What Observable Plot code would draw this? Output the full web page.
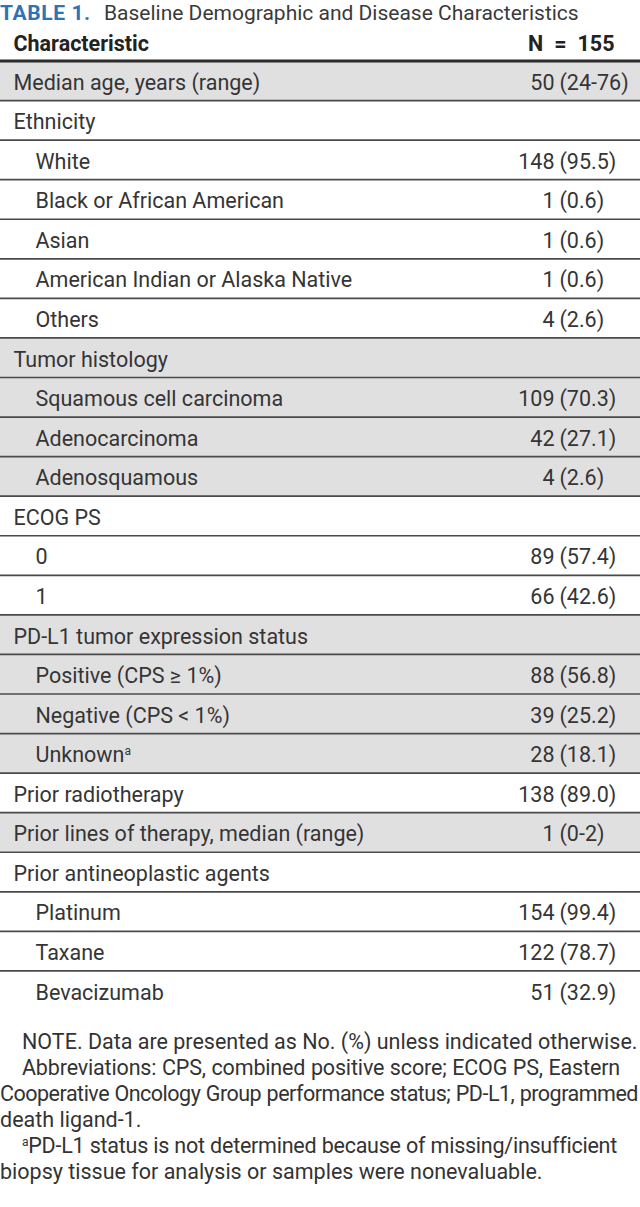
<!DOCTYPE html>
<html>
<head>
<meta charset="utf-8">
<script src="https://cdn.jsdelivr.net/npm/d3@7"></script>
<script src="https://cdn.jsdelivr.net/npm/@observablehq/plot@0.6"></script>
<style>
  html, body { margin: 0; padding: 0; background: #fff; }
  body { width: 640px; font-family: Roboto, "Liberation Sans", sans-serif; color: #333; }
  #title { height: 28px; font-size: 21px; line-height: 26px; white-space: nowrap; color: #3a3a3a; }
  #title b { color: #2f72b6; font-weight: 700; letter-spacing: 0.6px; margin-right: 8px; }
  #notes { margin-top: 17px; font-size: 21.5px; line-height: 26px; color: #333; }
  #notes div { white-space: nowrap; }
  #notes .j { text-align: justify; text-align-last: justify; }
  sup { font-size: 12px; vertical-align: 7px; line-height: 0; }
</style>
</head>
<body>
<div id="title"><b>TABLE 1.</b> Baseline Demographic and Disease Characteristics</div>
<div id="chart"></div>
<div id="notes"></div>
<script>
// ---- data ----
const headerLabels = ["Characteristic", "N\u2002=\u2002155"];
const characteristics = [
  "Median age, years (range)",
  "Ethnicity",
  "White",
  "Black or African American",
  "Asian",
  "American Indian or Alaska Native",
  "Others",
  "Tumor histology",
  "Squamous cell carcinoma",
  "Adenocarcinoma",
  "Adenosquamous",
  "ECOG PS",
  "0",
  "1",
  "PD-L1 tumor expression status",
  "Positive (CPS \u2265 1%)",
  "Negative (CPS < 1%)",
  "Unknown",
  "Prior radiotherapy",
  "Prior lines of therapy, median (range)",
  "Prior antineoplastic agents",
  "Platinum",
  "Taxane",
  "Bevacizumab"
];
const values = [
  "50 (24-76)", "", "148 (95.5)", "1 (0.6)", "1 (0.6)", "1 (0.6)", "4 (2.6)",
  "", "109 (70.3)", "42 (27.1)", "4 (2.6)",
  "", "89 (57.4)", "66 (42.6)",
  "", "88 (56.8)", "39 (25.2)", "28 (18.1)",
  "138 (89.0)", "1 (0-2)",
  "", "154 (99.4)", "122 (78.7)", "51 (32.9)"
];
const levels = [0, 0, 1, 1, 1, 1, 1, 0, 1, 1, 1, 0, 1, 1, 0, 1, 1, 1, 0, 0, 0, 1, 1, 1];
const footnoteMarks = ["", "", "", "", "", "", "", "", "", "", "", "", "", "", "", "", "", "a", "", "", "", "", "", ""];
const noteLines = [
  {text: "NOTE. Data are presented as No. (%) unless indicated otherwise.", indent: true, justify: false},
  {text: "Abbreviations: CPS, combined positive score; ECOG PS, Eastern", indent: true, justify: true, width: 598},
  {text: "Cooperative Oncology Group performance status; PD-L1, programmed", indent: false, justify: true, width: 638},
  {text: "death ligand-1.", indent: false, justify: false},
  {text: "PD-L1 status is not determined because of missing/insufficient", indent: true, justify: true, mark: "a", width: 595},
  {text: "biopsy tissue for analysis or samples were nonevaluable.", indent: false, justify: false}
];

// ---- build rows ----
let g = -1;
const rows = characteristics.map((label, i) => {
  if (levels[i] === 0) g++;
  const v = values[i];
  const sp = v.indexOf(" ");
  return {
    i, label, level: levels[i], group: g, mark: footnoteMarks[i],
    count: v ? v.slice(0, sp) : "",
    pct: v ? v.slice(sp + 1) : ""
  };
});
const header = [{label: headerLabels[0], value: headerLabels[1], y: -0.47}];

const FONT = "Roboto, 'Liberation Sans', sans-serif";
const TXT = "#353535";
const FS = 21.5;

const chart = Plot.plot({
  width: 640,
  height: 984,
  margin: 0,
  style: {fontFamily: FONT, fontSize: FS + "px", background: "#fff", color: TXT},
  x: {domain: [0, 640], range: [0, 640], axis: null},
  y: {domain: [0, 24], range: [32.5, 982], axis: null},
  marks: [
    Plot.rect(rows.filter(d => d.group % 2 === 0), {
      x1: 0, x2: 640, y1: "i", y2: d => d.i + 1, fill: "#e1e0e1"
    }),
    Plot.ruleY(rows.slice(0, -1), {y: d => d.i + 1, stroke: "#4a4a4a", strokeWidth: 1.7}),
    Plot.ruleY([0], {stroke: "#2b2b2b", strokeWidth: 3}),
    // header
    Plot.text(header, {x: 13, y: "y", text: "label", textAnchor: "start", fontWeight: "bold",
      fontSize: FS, fill: "#222", dy: 2}),
    Plot.text(header, {x: 614, y: "y", text: "value", textAnchor: "end", fontWeight: "bold",
      fontSize: FS, fill: "#222", dy: 2}),
    // row labels
    Plot.text(rows, {x: d => d.level ? 35 : 13, y: d => d.i + 0.5, text: "label",
      textAnchor: "start", fontSize: FS, fill: TXT, dy: 2}),
    // counts and percentages
    Plot.text(rows, {x: 554, y: d => d.i + 0.5, text: "count", textAnchor: "end",
      fontSize: FS, fill: TXT, dy: 2}),
    Plot.text(rows, {x: 559, y: d => d.i + 0.5, text: "pct", textAnchor: "start",
      fontSize: FS, fill: TXT, dy: 2})
  ]
});
document.getElementById("chart").appendChild(chart);

// superscript footnote markers on labels
const marked = new Map(rows.filter(d => d.mark).map(d => [d.label, d.mark]));
d3.select(chart).selectAll("text").each(function () {
  const t = this.textContent;
  if (marked.has(t) && this.childElementCount === 0) {
    d3.select(this).append("tspan").attr("dy", -7).attr("font-size", 12).text(marked.get(t));
  }
});

// notes
const notes = d3.select("#notes");
noteLines.forEach(l => {
  const div = notes.append("div")
    .attr("class", l.justify ? "j" : null)
    .style("padding-left", l.indent ? "22px" : "0px");
  if (l.justify) div.style("width", l.width + "px");
  const inner = div.append("span").style("display", "inline");
  if (l.mark) inner.append("sup").text(l.mark);
  inner.append("span").text(l.text);
  if (l.justify) {
    // if the natural text is wider than the line, tighten letter spacing to fit
    const probe = inner.node().getBoundingClientRect().width;
    if (probe > l.width) {
      const n = l.text.length + (l.mark ? 1 : 0);
      div.style("letter-spacing", ((l.width - probe) / n - 0.05) + "px");
    }
  }
});
</script>
</body>
</html>
